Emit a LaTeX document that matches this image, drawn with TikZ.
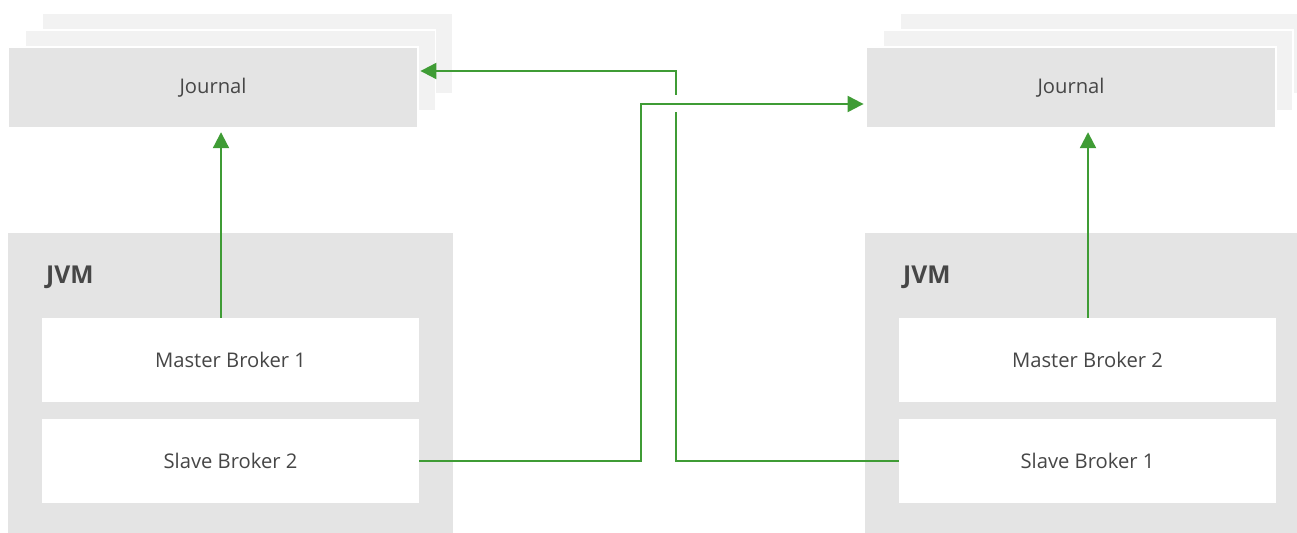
\documentclass[tikz,border=0pt]{standalone}
\usepackage{fontspec}
\setmainfont{Open Sans}
\usetikzlibrary{arrows.meta, positioning, calc}
\definecolor{flowgreen}{RGB}{63, 156, 53}
\definecolor{boxgray}{RGB}{228, 228, 228}
\definecolor{ghostgray}{RGB}{242, 242, 242}
\definecolor{labelgray}{RGB}{70, 70, 70}
\tikzset{
  ghost/.style={draw=white, line width=0.8pt, fill=ghostgray, minimum width=8.2cm, minimum height=1.62cm},
  journal/.style={ghost, fill=boxgray, text=labelgray, font=\fontsize{11.5}{14}\selectfont},
  jvm/.style={fill=boxgray, minimum width=8.9cm, minimum height=6cm},
  broker/.style={fill=white, minimum width=7.54cm, minimum height=1.67cm, text=labelgray, font=\fontsize{11.5}{14}\selectfont},
  jvmlabel/.style={anchor=west, text=labelgray, font=\fontsize{14}{16}\selectfont\bfseries},
  flow/.style={draw=flowgreen, line width=1.2pt, -{Triangle[length=0.32cm, width=0.32cm]}},
}

\begin{document}
\begin{tikzpicture}[x=0.02cm, y=-0.02cm]
  \clip (0,0) rectangle (1297,533);

  % Journal stacks
  \node[ghost] (ghostA2) at (247.5, 53.5) {};
  \node[ghost] (ghostA1) at (230.5, 70.5) {};
  \node[journal] (jrnlA) at (213, 87.5) {Journal};

  \node[ghost] (ghostB2) at (1105, 53.5) {};
  \node[ghost] (ghostB1) at (1088, 70.5) {};
  \node[journal] (jrnlB) at (1071, 87.5) {Journal};

  % JVMs
  \node[jvm] (jvmA) at (230.5, 383) {};
  \node[jvmlabel] (jvmlabelA) at (40, 277) {JVM};
  \node[broker] (masterA) at (230.5, 360) {Master Broker 1};
  \node[broker] (slaveA) at (230.5, 461) {Slave Broker 2};

  \node[jvm] (jvmB) at (1087.5, 383) {};
  \node[jvmlabel] (jvmlabelB) at (897, 277) {JVM};
  \node[broker] (masterB) at (1087.5, 360) {Master Broker 2};
  \node[broker] (slaveB) at (1087.5, 461) {Slave Broker 1};

  % Master to own journal
  \draw[flow, shorten >=2pt] ([xshift=-0.19cm]masterA.north) -- ([xshift=-0.19cm]masterA.north |- jrnlA.south);
  \draw[flow, shorten >=2pt] ([xshift=0.01cm]masterB.north) -- ([xshift=0.01cm]masterB.north |- jrnlB.south);

  % Slave replication, crossing
  \coordinate (bendB) at (676, 71);
  \coordinate (bendA) at (641, 104);
  \draw[flow, shorten >=1pt] (slaveB.west) -| (bendB) -- (bendB -| jrnlA.east);
  \fill[white] ($(bendB |- bendA)+(-4,-8.5)$) rectangle ($(bendB |- bendA)+(4,8.5)$);
  \draw[flow, shorten >=1pt] (slaveA.east) -| (bendA) -- (bendA -| jrnlB.west);
\end{tikzpicture}
\end{document}
